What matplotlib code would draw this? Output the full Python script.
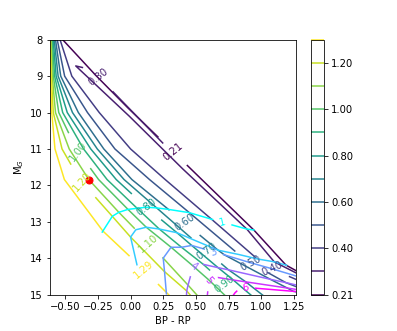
import numpy as np
import matplotlib
matplotlib.use('Agg')
import matplotlib.pyplot as plt

# white dwarf cooling tracks: one row per mass, one column per cooling age (Gyr)
masses = [0.2, 0.3, 0.4, 0.5, 0.6, 0.7, 0.8, 0.9, 1.0, 1.1, 1.2, 1.3]
ages = [0.02, 0.1, 0.3, 0.6, 0.8, 1, 2, 3, 4, 5, 6, 8]

track_col = [
    [-0.606, -0.262, 0.024, 0.311, 0.552, 0.95, 1.20, 1.45, 1.70, 1.85, 1.90, 2.05],
    [0.25, -0.30, -0.42, -0.01, 0.40, 0.89, 1.10, 1.38, 1.60, 1.80, 1.85, 2.00],
    [-0.585, -0.45, -0.24, 0.0, 0.265, 0.62, 0.97, 1.063, 1.48, 1.70, 1.75, 1.90],
    [-0.59, -0.505, -0.33, -0.12, 0.145, 0.45, 0.83, 0.913, 1.188, 1.36, 1.40, 1.60],
    [-0.595, -0.535, -0.40, -0.205, 0.01, 0.29, 0.67, 0.719, 1.07, 1.20, 1.246, 1.50],
    [-0.60, -0.555, -0.445, -0.255, -0.05, 0.20, 0.478, 0.565, 0.75, 0.882, 0.942, 1.15],
    [-0.605, -0.57, -0.485, -0.305, -0.11, 0.12, 0.355, 0.468, 0.67, 0.787, 0.848, 1.05],
    [-0.609, -0.582, -0.52, -0.36, -0.18, 0.05, 0.22, 0.39, 0.557, 0.668, 0.80, 0.95],
    [-0.612, -0.592, -0.55, -0.415, -0.245, -0.02, 0.12, 0.31, 0.48, 0.60, 0.76, 0.90],
    [-0.615, -0.60, -0.575, -0.47, -0.32, -0.09, 0.04, 0.25, 0.44, 0.58, 0.68, 0.80],
    [-0.617, -0.607, -0.592, -0.525, -0.39, -0.14, 0.0, 0.26, 0.43, 0.55, 0.63, 0.75],
    [-0.62, -0.612, -0.605, -0.585, -0.52, -0.22, 0.05, 0.275, 0.42, 0.55, 0.65, 0.80],
]
track_mag = [
    [7.68, 9.0, 10.0, 11.0, 11.84, 13.23, 14.2, 14.7, 15.1, 15.15, 15.2, 15.3],
    [10.85, 8.82, 8.72, 10.1, 11.55, 13.2, 14.1, 14.61, 15.0, 15.1, 15.15, 15.25],
    [7.5, 9.0, 10.0, 11.0, 11.84, 12.93, 14.02, 14.27, 14.91, 15.0, 15.05, 15.15],
    [7.5, 9.0, 10.0, 11.0, 11.84, 12.75, 13.9, 14.12, 14.67, 14.91, 14.95, 15.1],
    [7.5, 9.0, 10.0, 11.0, 11.84, 12.66, 13.78, 13.91, 14.58, 14.82, 14.91, 15.1],
    [7.5, 9.0, 10.0, 11.0, 11.84, 12.62, 13.49, 13.75, 14.32, 14.65, 14.82, 15.4],
    [7.5, 9.0, 10.0, 11.0, 11.84, 12.6, 13.3, 13.65, 14.26, 14.6, 14.79, 15.4],
    [7.5, 9.0, 10.0, 11.0, 11.84, 12.63, 13.2, 13.7, 14.17, 14.53, 14.95, 15.5],
    [7.5, 9.0, 10.0, 11.0, 11.84, 12.66, 13.15, 13.7, 14.22, 14.6, 15.15, 15.6],
    [7.5, 9.0, 10.0, 11.0, 11.84, 12.74, 13.22, 14.0, 14.74, 15.3, 15.6, 16.0],
    [7.5, 9.0, 10.0, 11.0, 11.84, 12.85, 13.42, 14.37, 14.9, 15.4, 15.8, 16.5],
    [7.5, 9.0, 10.0, 11.0, 11.84, 13.3, 14.2, 15.0, 15.55, 16.0, 16.4, 17.0],
]

mass_levels = [0.21, 0.3, 0.4, 0.5, 0.6, 0.7, 0.8, 0.9, 1.0, 1.1, 1.2, 1.29]
age_levels = [1, 2, 3, 4, 5, 6]
cbar_ticks = [0.21, 0.4, 0.6, 0.8, 1.0, 1.2]

# rough spots of the inline labels
mass_label_at = {
    0.21: (0.31, 11.1), 0.3: (-0.25, 9.05), 0.4: (1.07, 14.39),
    0.5: (0.91, 14.2), 0.6: (0.41, 13.04), 0.7: (0.57, 13.84),
    0.8: (0.12, 12.6), 0.9: (0.72, 14.7), 1.0: (-0.41, 11.1),
    1.1: (0.145, 13.56), 1.2: (-0.40, 12.0), 1.29: (0.10, 14.34),
}
age_label_at = {
    1: (0.70, 13.04), 3: (0.63, 13.93), 4: (0.48, 14.15),
    5: (0.585, 14.6), 6: (0.88, 14.8),
}

star_col = [-0.32]
star_mag = [11.86]

X = np.array(track_col)
Y = np.array(track_mag)
M = np.repeat(np.array(masses)[:, None], len(ages), axis=1)
A = np.repeat(np.array(ages, dtype=float)[None, :], len(masses), axis=0)


def snap(pt, xs, ys, k=3.55):
    # nearest point of a polyline, colour stretched so both axes weigh alike
    best = None
    for i in range(len(xs) - 1):
        x0, y0, x1, y1 = xs[i] * k, ys[i], xs[i + 1] * k, ys[i + 1]
        dx, dy = x1 - x0, y1 - y0
        t = np.clip(((pt[0] * k - x0) * dx + (pt[1] - y0) * dy) / (dx * dx + dy * dy), 0, 1)
        qx, qy = x0 + t * dx, y0 + t * dy
        d = (qx - pt[0] * k) ** 2 + (qy - pt[1]) ** 2
        if best is None or d < best[0]:
            best = (d, qx / k, qy)
    return best[1], best[2]


fig, ax = plt.subplots(figsize=(397 / 72, 331 / 72), dpi=72)

cs = ax.contour(X, Y, M, levels=mass_levels, cmap='viridis')
spots = []
for lev, pos in mass_label_at.items():
    row = int(np.argmin(np.abs(np.array(masses) - lev)))
    spots.append(snap(pos, X[row], Y[row]))
ax.clabel(cs, manual=spots, fmt='%.2f')

cs2 = ax.contour(X, Y, A, levels=age_levels, cmap='cool')
spots = []
for lev, pos in age_label_at.items():
    col = ages.index(lev)
    spots.append(snap(pos, X[:, col], Y[:, col]))
ax.clabel(cs2, manual=spots, fmt='%d')

ax.plot(star_col, star_mag, 'o', color='red', markersize=7)

ax.set_xlim(-0.62, 1.265)
ax.set_ylim(15, 8)
ax.set_xlabel('BP - RP')
ax.set_ylabel('M$_G$')

cb = fig.colorbar(cs, ax=ax)
cb.set_ticks(cbar_ticks)
cb.set_ticklabels(['%.2f' % t for t in cbar_ticks])

fig.savefig('out.png', dpi=72)
